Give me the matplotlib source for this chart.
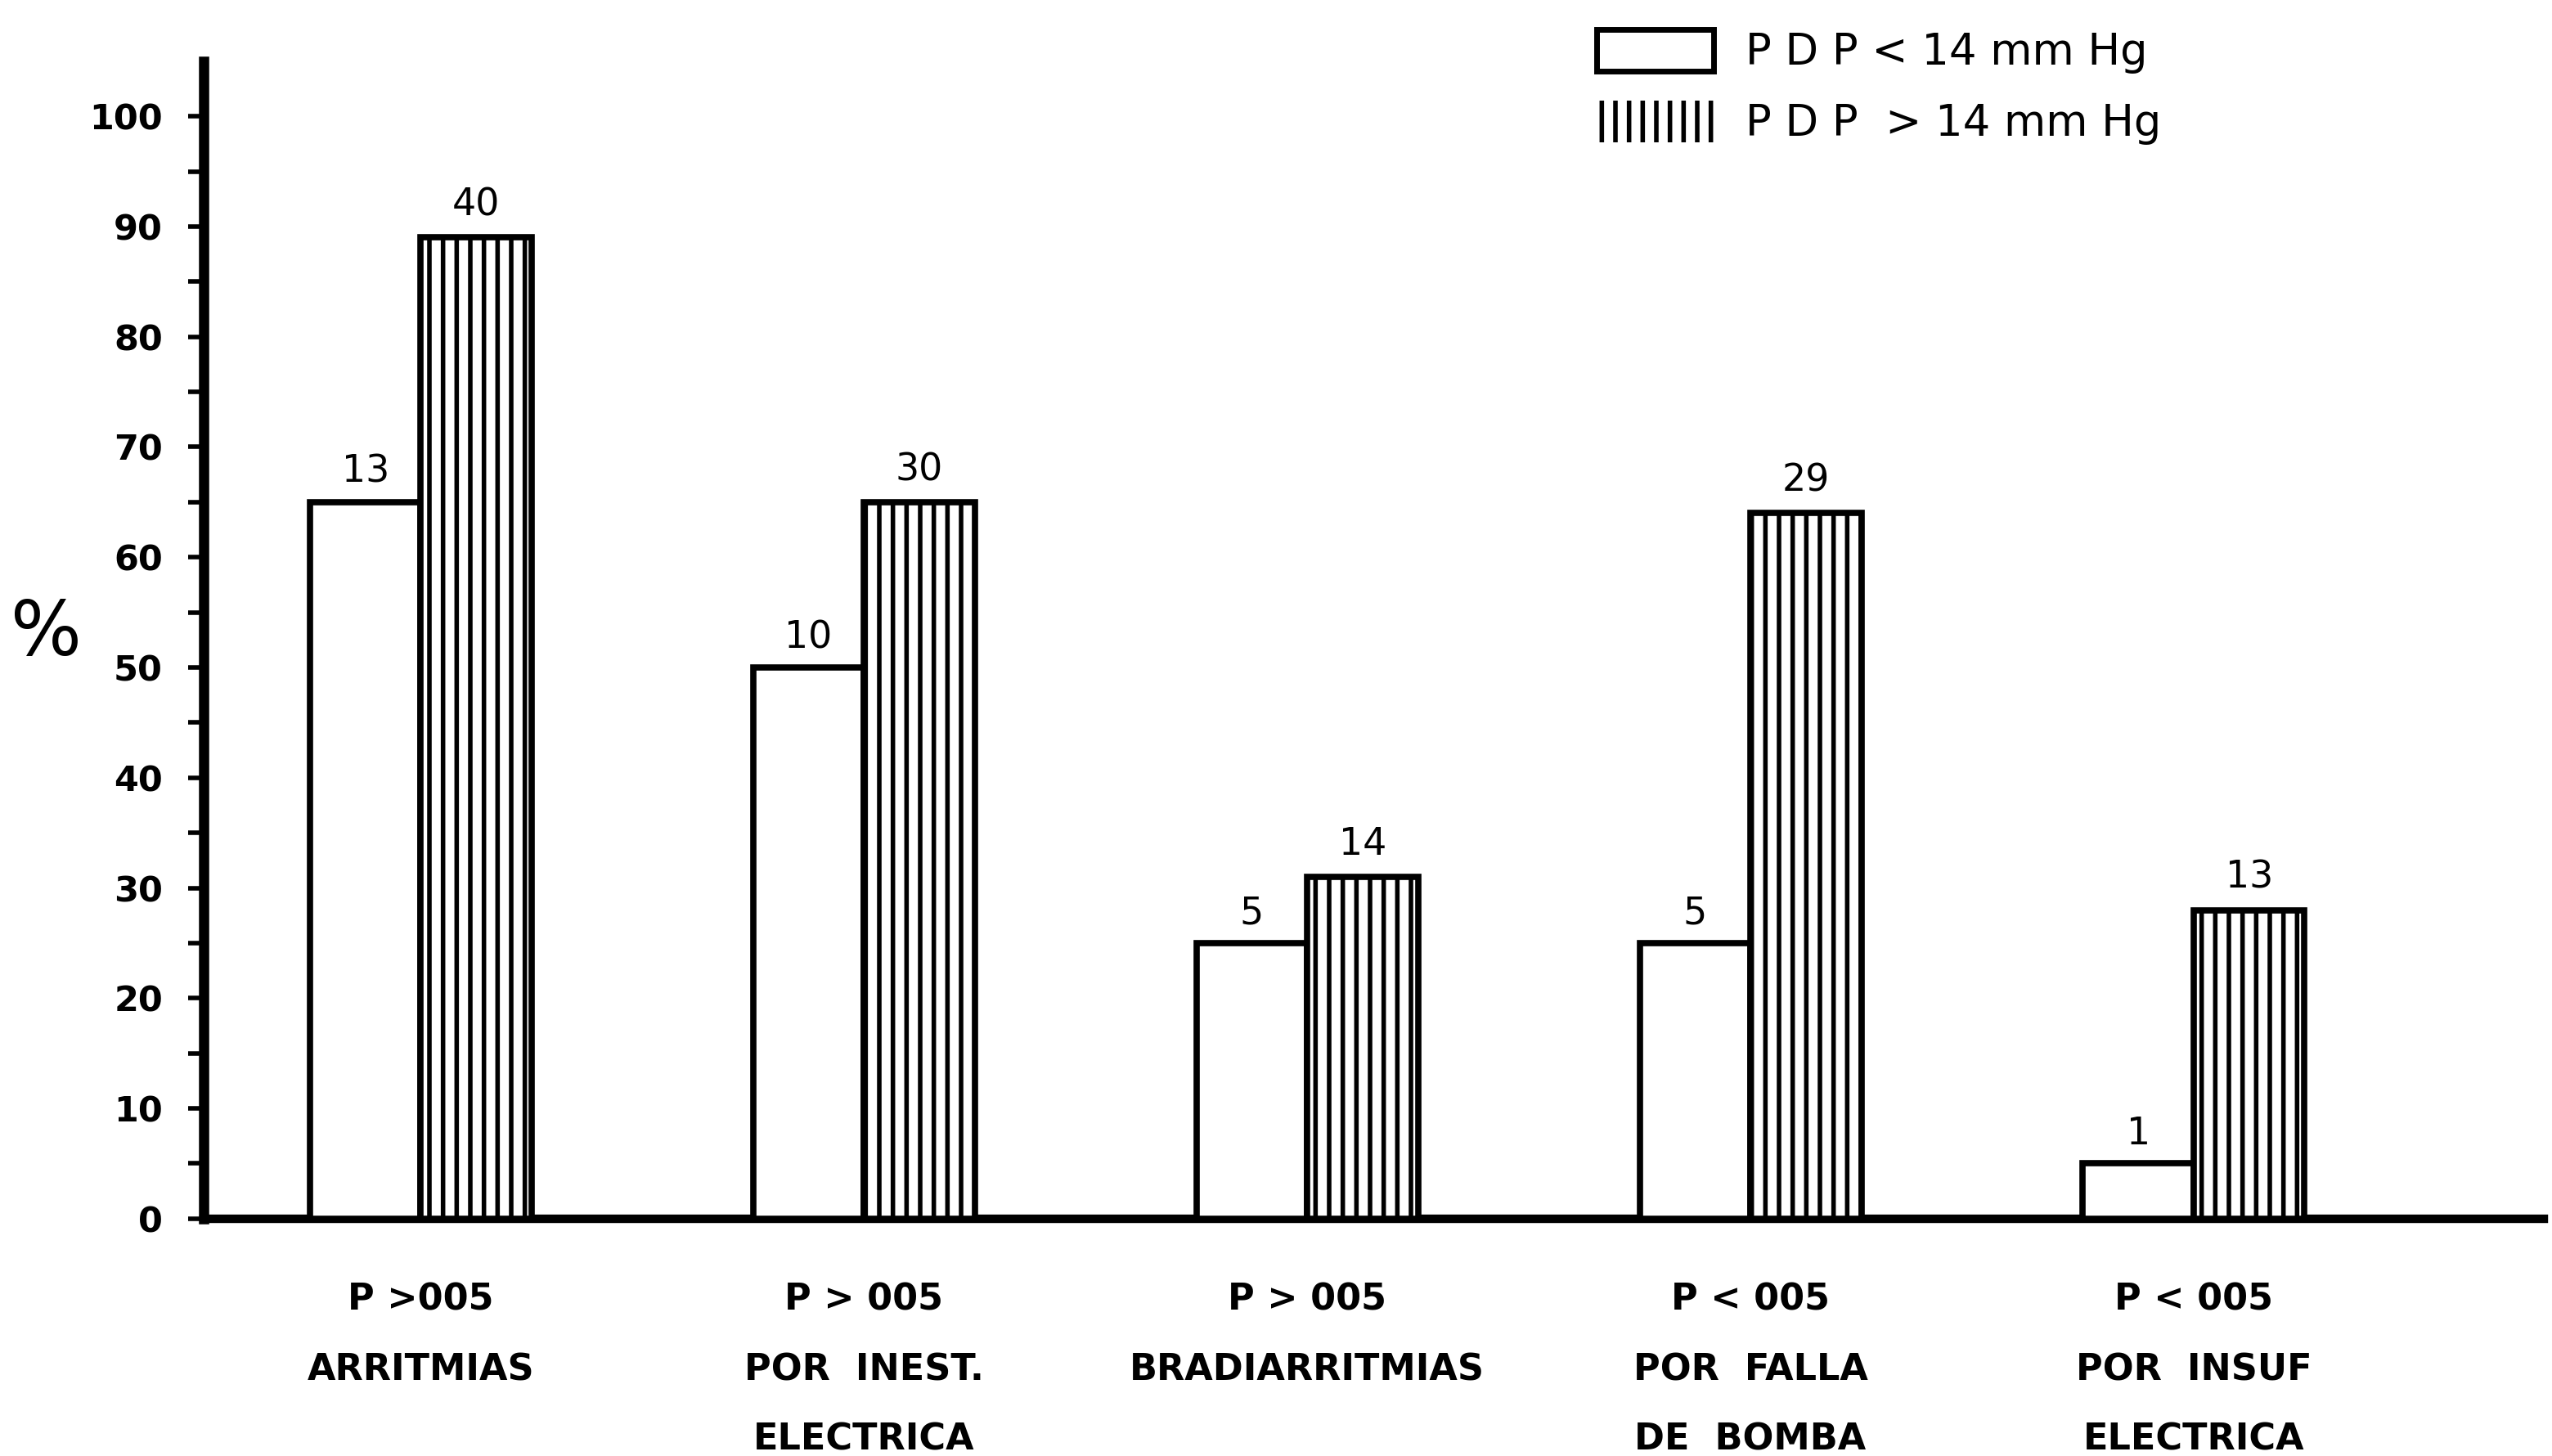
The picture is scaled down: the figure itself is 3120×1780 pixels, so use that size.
import matplotlib.pyplot as plt
import matplotlib as mpl
import numpy as np
from matplotlib.patches import Patch

# ##### Data #####

groups = ["P >005\nARRITMIAS",
          "P > 005\nPOR  INEST.\nELECTRICA",
          "P > 005\nBRADIARRITMIAS",
          "P < 005\nPOR  FALLA\nDE  BOMBA",
          "P < 005\nPOR  INSUF\nELECTRICA"]

pct_low = [65, 50, 25, 25, 5]       # PDP < 14 mm Hg (%)
pct_high = [89, 65, 31, 64, 28]     # PDP > 14 mm Hg (%)
n_low = ["13", "10", "5", "5", "1"]
n_high = ["40", "30", "14", "29", "13"]

legend_labels = ["P D P < 14 mm Hg", "P D P  > 14 mm Hg"]

yticks = np.arange(0, 101, 10)


# ##### Make plot #####

mpl.rcParams["hatch.linewidth"] = 4.0

fig = plt.figure(figsize=(31.2, 17.8), dpi=100)
ax = fig.add_axes([0.0798, 0.163, 0.917, 0.795])

x = np.arange(len(groups))
width = 0.25

bars_low = ax.bar(x - width/2, pct_low, width, color="white",
                  edgecolor="black", linewidth=5.5, zorder=3)
bars_high = ax.bar(x + width/2, pct_high, width, color="white",
                   edgecolor="black", linewidth=5.5, hatch="|", zorder=3)

for rect, lab in zip(bars_low, n_low):
    ax.annotate(lab, (rect.get_x() + rect.get_width()/2, rect.get_height()),
                xytext=(0, 10), textcoords="offset points", ha="center",
                va="bottom", fontsize=33, family="DejaVu Sans")
for rect, lab in zip(bars_high, n_high):
    ax.annotate(lab, (rect.get_x() + rect.get_width()/2, rect.get_height()),
                xytext=(0, 12), textcoords="offset points", ha="center",
                va="bottom", fontsize=33, family="DejaVu Sans")

ax.set_xlim(-0.49, 4.79)
ax.set_ylim(0, 105)

ax.spines["top"].set_visible(False)
ax.spines["right"].set_visible(False)
ax.spines["left"].set_linewidth(9)
ax.spines["bottom"].set_linewidth(7.5)

ax.set_yticks(yticks)
ax.set_yticks(np.arange(5, 101, 10), minor=True)
ax.set_yticklabels([str(t) for t in yticks], fontsize=31,
                   fontweight="bold", family="DejaVu Sans")
ax.tick_params(axis="y", which="both", direction="out", length=14,
               width=4, pad=22)

ax.set_xticks(x)
ax.set_xticklabels(groups, fontsize=32, fontweight="bold",
                   family="DejaVu Sans", linespacing=2.25)
ax.tick_params(axis="x", length=0, pad=56)

fig.text(56/3120, 1 - 775/1780, "%", fontsize=66, ha="center",
         va="center", family="DejaVu Sans")

handles = [Patch(facecolor="white", edgecolor="black", linewidth=5),
           Patch(facecolor="white", edgecolor="black", linewidth=0,
                 hatch="|")]
ax.legend(handles, legend_labels, loc="upper left",
          bbox_to_anchor=(1952/3120, 1 - 36/1780),
          bbox_transform=fig.transFigure, frameon=False,
          borderpad=0, borderaxespad=0,
          handlelength=2.7, handleheight=1.1, handletextpad=0.75,
          labelspacing=0.62, prop={"family": "DejaVu Sans", "size": 38})

plt.savefig("out.png", dpi=100)
plt.close()
